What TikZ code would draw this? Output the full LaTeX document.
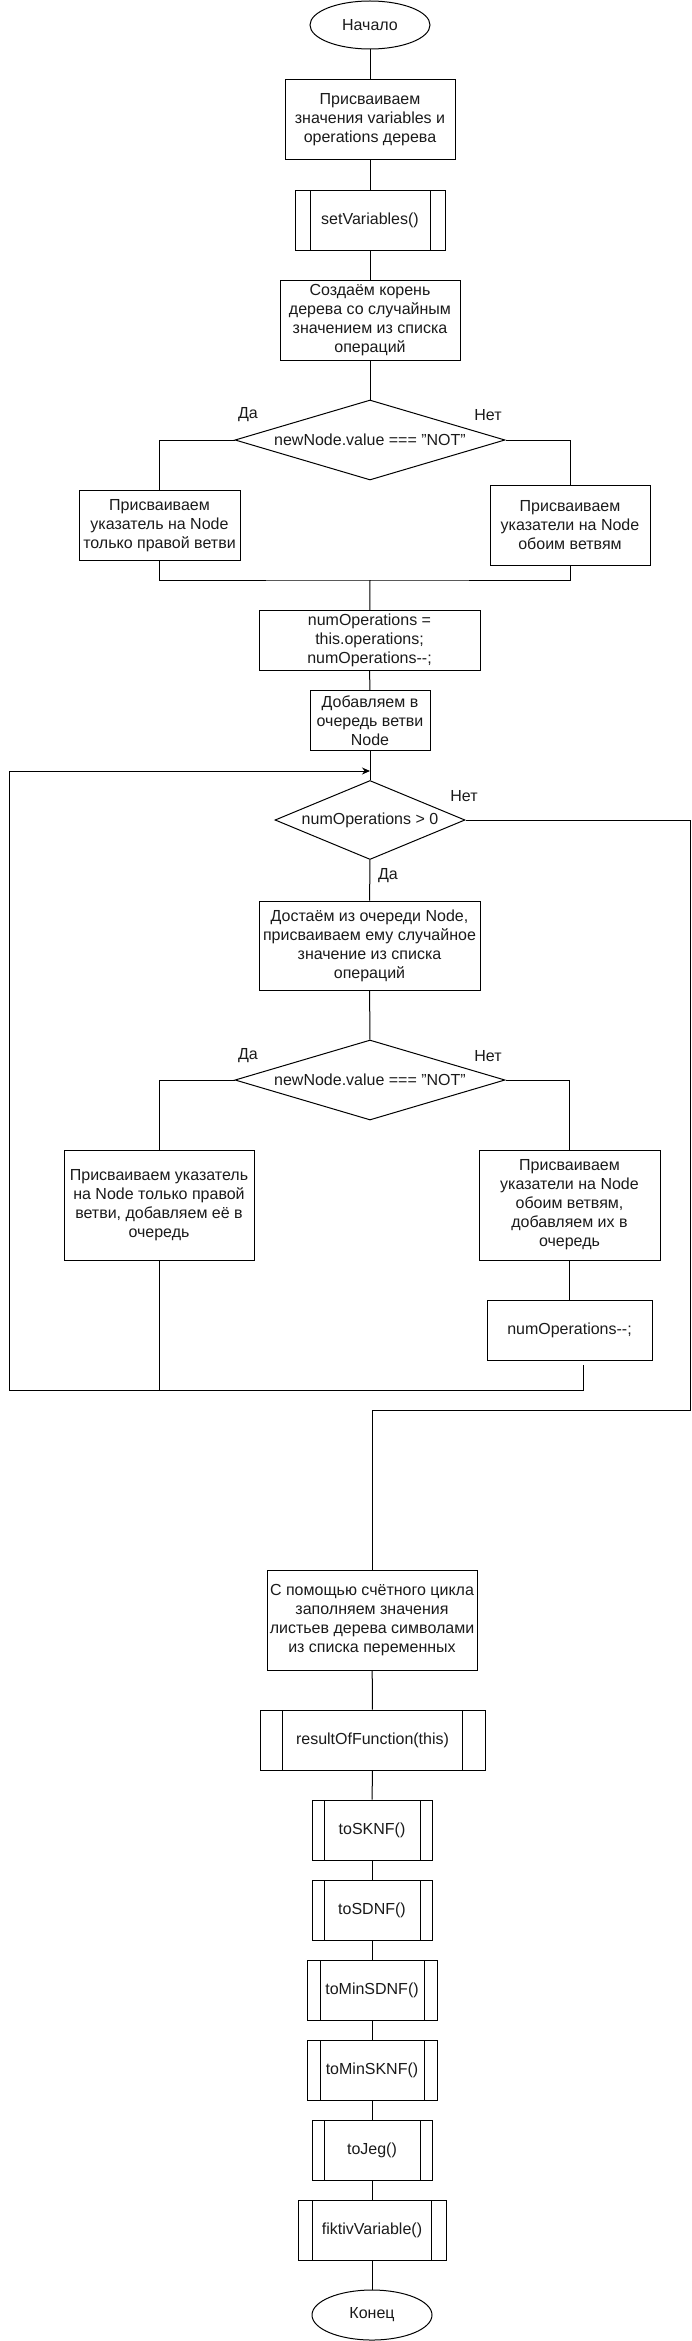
\documentclass[tikz,border=0pt]{standalone}
\usepackage{fontspec}
\setmainfont{Liberation Sans}
\usepackage{tikz}
\usetikzlibrary{shapes.geometric,calc,arrows.meta}
\definecolor{FlowLine}{HTML}{000000}
\definecolor{FlowText}{HTML}{1A1A1A}

\begin{document}
\begin{tikzpicture}[x=1pt,y=-1pt,line width=1pt,draw=FlowLine,
    every node/.style={font=\fontsize{16}{19}\selectfont,text=FlowText},
    proc/.style={draw=FlowLine,rectangle,align=center,inner sep=2pt},
    sub/.style={proc,path picture={
        \draw[FlowLine] ($(path picture bounding box.north west)!0.1!(path picture bounding box.north east)$)
          -- ($(path picture bounding box.south west)!0.1!(path picture bounding box.south east)$);
        \draw[FlowLine] ($(path picture bounding box.north west)!0.9!(path picture bounding box.north east)$)
          -- ($(path picture bounding box.south west)!0.9!(path picture bounding box.south east)$);}},
    term/.style={draw=FlowLine,ellipse,inner sep=0pt,minimum width=120,minimum height=48},
    cond/.style={draw=FlowLine,diamond,inner sep=0pt,align=center},
    lbl/.style={inner sep=1pt}]
      \useasboundingbox (0,0) rectangle (691,2341);
      \node[term] (start) at (370,25) {Начало};
      \node[proc,minimum width=170,minimum height=80] (assign) at (370,120)
        {Присваиваем\\значения variables и\\operations дерева};
      \node[sub,minimum width=150,minimum height=60] (setvars) at (370,220.5) {setVariables()};
      \node[proc,minimum width=180,minimum height=80] (root) at (370,320.5)
        {Создаём корень\\дерева со случайным\\значением из списка\\операций};
      \node[cond,aspect=3.375,minimum width=270,minimum height=80] (isnot) at (370,440) {newNode.value === "NOT"};
      \node[lbl] (isnotyes) at (248,415) {Да};
      \node[lbl] (isnotno) at (488,415) {Нет};
      \node[proc,minimum width=161,minimum height=70] (rightonly) at (159.5,525.5)
        {Присваиваем\\указатель на Node\\только правой ветви};
      \node[proc,minimum width=160,minimum height=80] (both) at (570,525.5)
        {Присваиваем\\указатели на Node\\обоим ветвям};
      \coordinate (merge) at (370,580);
      \node[proc,minimum width=221,minimum height=60] (numops) at (369.5,640.5)
        {numOperations =\\this.operations;\\numOperations-{}-;};
      \node[proc,minimum width=120,minimum height=60] (enqueue) at (370,720.5)
        {Добавляем в\\очередь ветви\\Node};
      \coordinate (loopin) at (370,771);
      \node[cond,aspect=2.4,minimum width=190,minimum height=79] (haveops) at (370,820) {numOperations > 0};
      \node[lbl] (haveopsno) at (464,796) {Нет};
      \node[lbl] (haveopsyes) at (388,876) {Да};
      \node[proc,minimum width=221,minimum height=89] (fetch) at (369.5,945.5)
        {Достаём из очереди Node,\\присваиваем ему случайное\\значение из списка\\операций};
      \node[cond,aspect=3.375,minimum width=270,minimum height=80] (isnotq) at (370,1080) {newNode.value === "NOT"};
      \node[lbl] (isnotqyes) at (248,1056) {Да};
      \node[lbl] (isnotqno) at (488,1056) {Нет};
      \node[proc,minimum width=190,minimum height=110] (rightonlyq) at (159,1205)
        {Присваиваем указатель\\на Node только правой\\ветви, добавляем её в\\очередь};
      \node[proc,minimum width=181,minimum height=110] (bothq) at (569.5,1205)
        {Присваиваем\\указатели на Node\\обоим ветвям,\\добавляем их в\\очередь};
      \node[proc,minimum width=165,minimum height=60] (decr) at (569.5,1330) {numOperations-{}-;};
      \coordinate (decrout) at (583,1365);
      \coordinate (loopleft) at (9,1390);
      \coordinate (exitcorner) at (690,1410);
      \node[proc,minimum width=210,minimum height=100] (fill) at (372,1620)
        {С помощью счётного цикла\\заполняем значения\\листьев дерева символами\\из списка переменных};
      \node[sub,minimum width=225,minimum height=60] (result) at (372.5,1740) {resultOfFunction(this)};
      \node[sub,minimum width=120,minimum height=60] (sknf) at (372,1830) {toSKNF()};
      \node[sub,minimum width=120,minimum height=60] (sdnf) at (372,1910) {toSDNF()};
      \node[sub,minimum width=130,minimum height=60] (minsdnf) at (372,1990) {toMinSDNF()};
      \node[sub,minimum width=130,minimum height=60] (minsknf) at (372,2070) {toMinSKNF()};
      \node[sub,minimum width=120,minimum height=60] (jeg) at (372,2150) {toJeg()};
      \node[sub,minimum width=148,minimum height=60] (fiktiv) at (372,2230) {fiktivVariable()};
      \node[term,minimum height=50] (finish) at (372,2315) {Конец};
      \draw (start) -- (assign);
      \draw (assign) -- (setvars);
      \draw (setvars) -- (root);
      \draw (root) -- (isnot);
      \draw (isnot.west) -| (rightonly.north);
      \draw (isnot.east) -| (both.north);
      \draw (rightonly.south) |- (merge) -| (both.south);
      \draw (merge) -- (numops);
      \draw (numops) -- (enqueue);
      \draw (enqueue) -- (haveops);
      \draw (haveops) -- (fetch);
      \draw (fetch) -- (isnotq);
      \draw (isnotq.west) -| (rightonlyq.north);
      \draw (isnotq.east) -| (bothq.north);
      \draw (bothq) -- (decr);
      \draw (rightonlyq.south) -- (rightonlyq.south |- loopleft);
      \draw[-{Stealth[length=8pt,width=7pt]}] (decrout) |- (loopleft) |- (loopin);
      \draw (haveops.east) -| (exitcorner) -| (fill.north);
      \draw (fill) -- (result);
      \draw (result) -- (sknf);
      \draw (sknf) -- (sdnf);
      \draw (sdnf) -- (minsdnf);
      \draw (minsdnf) -- (minsknf);
      \draw (minsknf) -- (jeg);
      \draw (jeg) -- (fiktiv);
      \draw (fiktiv) -- (finish);
    \end{tikzpicture}
\end{document}
